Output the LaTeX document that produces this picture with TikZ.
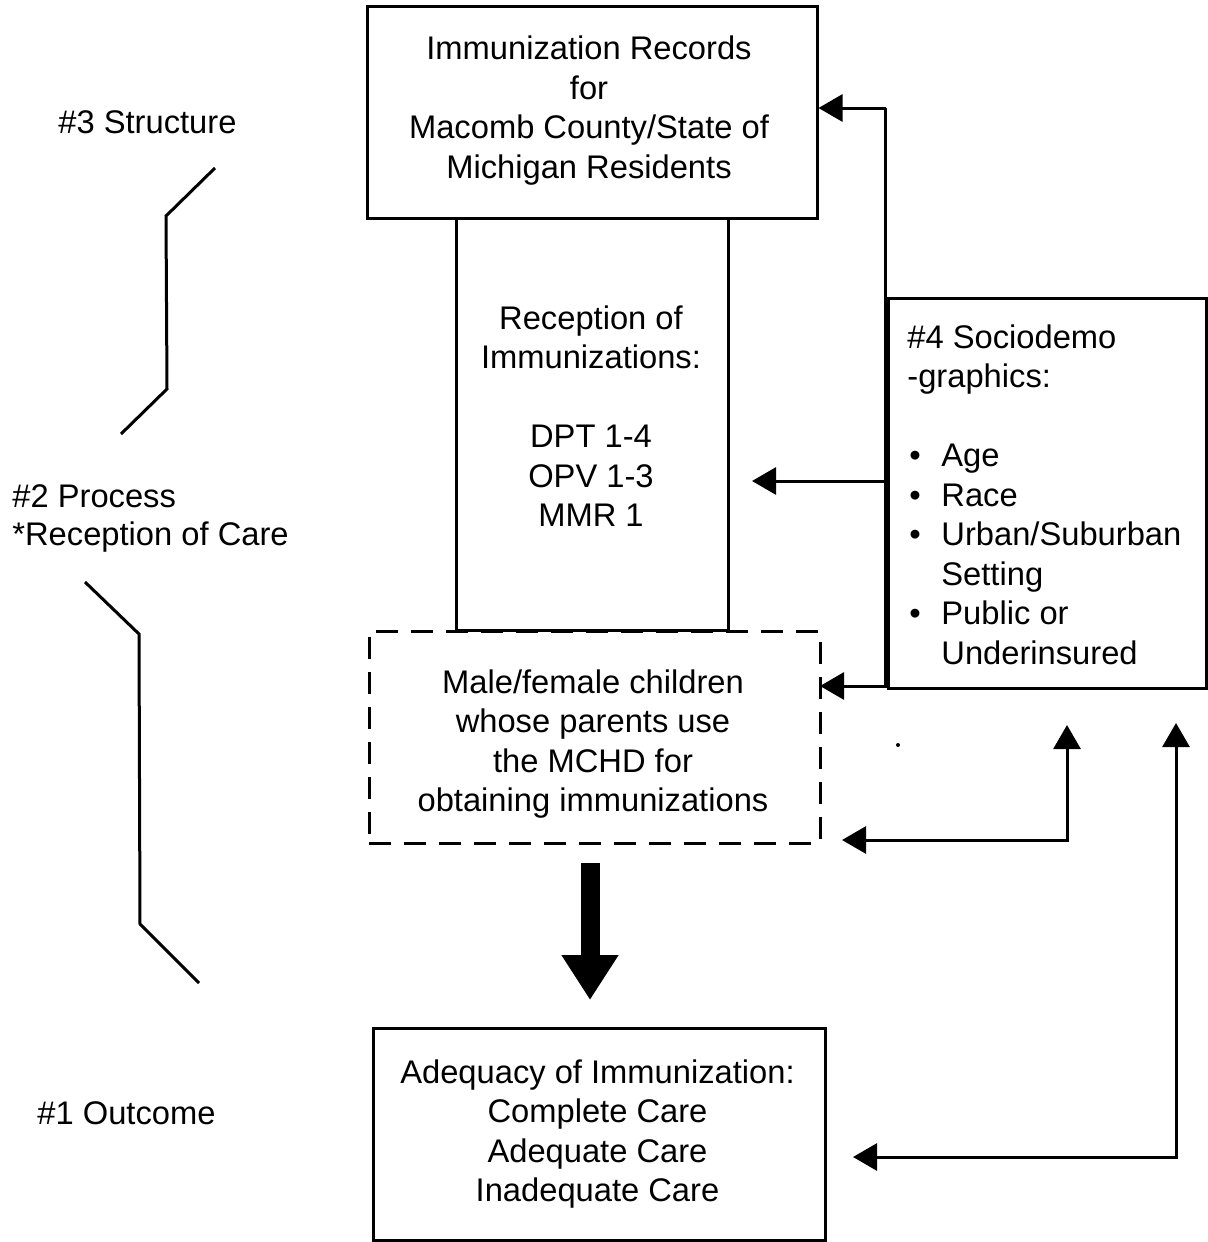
\documentclass[tikz,border=0pt]{standalone}
\usepackage{fontspec}
\setmainfont{Liberation Sans}
\usetikzlibrary{arrows.meta}
\newcommand\mybul{\makebox[17pt][l]{\hspace{1pt}•}}
\begin{document}
\begin{tikzpicture}[x=0.5pt,y=-0.5pt,
  box/.style={draw, line width=1.5pt, inner sep=0pt},
  dbox/.style={box, dash pattern=on 11pt off 6.5pt},
  txt/.style={align=center, font=\fontsize{16.35pt}{19.75pt}\selectfont, inner sep=0pt},
  lbl/.style={font=\fontsize{16.35pt}{19.75pt}\selectfont, inner sep=0pt},
  ln/.style={line width=1.5pt},
  arr/.style={line width=1.5pt, -{Triangle[length=12pt,width=13.5pt]}},
  darr/.style={line width=1.5pt, {Triangle[length=12pt,width=13.5pt]}-{Triangle[length=12pt,width=13.5pt]}},
  brk/.style={line width=1.5pt, line join=miter}]
\useasboundingbox (0,0) rectangle (1208,1242);

% boxes
\node[box, minimum width=225pt, minimum height=106pt] (top) at (592,112) {};
\node[box, minimum width=136pt, minimum height=206pt] (rec) at (592,424) {};
\node[dbox, minimum width=225.5pt, minimum height=106pt] (dash) at (594.5,737) {};
\node[box, minimum width=159pt, minimum height=195pt] (soc) at (1047,493) {};
\node[box, minimum width=226pt, minimum height=106pt] (out) at (599,1134) {};

% texts
\node[txt] (topT) at (589,110.5) {Immunization Records\\for\\Macomb County/State of\\Michigan Residents};
\node[txt] (recT) at (591,416) {Reception of\\Immunizations:\\[19.75pt]DPT 1-4\\OPV 1-3\\MMR 1};
\node[txt] (dashT) at (593,744) {Male/female children\\whose parents use\\the MCHD for\\obtaining immunizations};
\node[txt] (outT) at (597.5,1134) {Adequacy of Immunization:\\Complete Care\\Adequate Care\\Inadequate Care};
\node[txt, align=left, anchor=west] (socT) at (907,494.5) {\#4 Sociodemo\\-graphics:\\[19.75pt]\mybul Age\\\mybul Race\\\mybul Urban/Suburban\\\hspace*{17pt}Setting\\\mybul Public or\\\hspace*{17pt}Underinsured};

% left labels
\node[lbl, anchor=base west] (s3) at (58,133) {\#3 Structure};
\node[lbl, anchor=base west] (p2) at (12,507) {\#2 Process};
\node[lbl, anchor=base west] (p2b) at (12,545) {*Reception of Care};
\node[lbl, anchor=base west] (o1) at (37,1124) {\#1 Outcome};

% brackets
\draw[brk] (215,168) -- (166,216) -- (167,389) -- (121,434);
\draw[brk] (85,582) -- (139,634) -- (140,924) -- (199,983);

% sociodemographic connectors
\coordinate (jt) at (885.5,108);
\coordinate (jb) at (885.5,688);
\coordinate (rt) at (752,481);
\coordinate (dt) at (820,686);
\draw[ln] (jt) -- (jb);
\draw[arr] (jt) -- (top.east |- jt);
\draw[arr] (jb |- rt) -- (rt);
\draw[arr] (jb |- dt) -- (dt);

% feedback arrows
\coordinate (d1) at (842,840);
\coordinate (a1) at (1067,840);
\coordinate (u1) at (1067,725);
\draw[darr] (d1) -- (a1) -- (u1);
\coordinate (d2) at (853,1157);
\coordinate (a2) at (1176,1157);
\coordinate (u2) at (1176,723);
\draw[darr] (d2) -- (a2) -- (u2);

% bold arrow
\coordinate (bA) at (590,863);
\coordinate (bB) at (590,1000);
\draw[line width=9.5pt, -{Triangle[length=22.5pt,width=27pt]}] (bA) -- (bB);

% stray speck
\fill (898,745) circle (1pt);
\end{tikzpicture}
\end{document}
